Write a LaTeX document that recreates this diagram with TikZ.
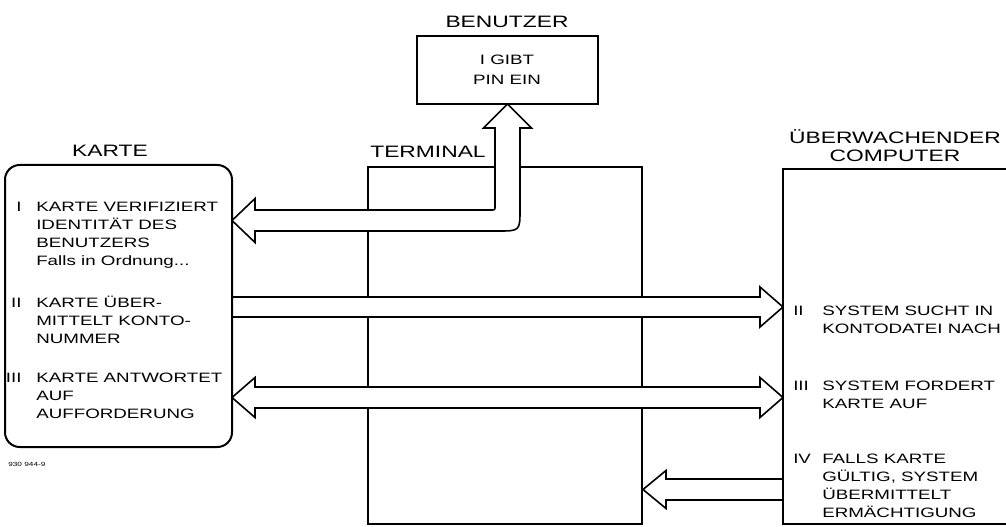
\documentclass[tikz,border=0pt]{standalone}
\usepackage{fontspec}
\setmainfont[FakeStretch=1.38]{Liberation Sans}
\usepackage{tikz}
\usetikzlibrary{calc,fit}

\begin{document}
\begin{tikzpicture}[x=0.75pt,y=-0.75pt,
  box/.style={draw,line width=1.5pt,inner sep=0pt},
  fat/.style={draw,fill=white,line width=1.2pt},
  head/.style={font=\fontsize{12.4}{13.5}\selectfont,inner sep=0pt,align=center},
  body/.style={font=\fontsize{10.2}{13.5}\selectfont,inner sep=0pt,align=left}]
  \useasboundingbox (0,0) rectangle (1006,527);
  \clip (0,0) rectangle (1006,527);

  % terminal sits under the arrows
  \node[box,fit={(368,167) (642,524)}] (terminal) {};
  \coordinate (kr) at (232,300);
  \coordinate (cl) at (783,300);
  \coordinate (pin) at (507.5,104);

  % I: user -> card (bent)
  \coordinate (a1) at (kr |- 0,220.5);
  \coordinate (ic) at ($(pin |- a1)+(-12.5,-10.5)$);
  \coordinate (oc) at ($(pin |- a1)+(12.5,10.5)$);
  \draw[fat] (a1) -- ($(a1)+(23,-22)$) -- ($(a1)+(23,-10.5)$)
    -- ($(ic)+(-4,0)$) .. controls (ic) .. ($(ic)+(0,-4)$)
    -- ($(pin)+(-12.5,24)$) -- ($(pin)+(-24,24)$) -- (pin)
    -- ($(pin)+(24,24)$) -- ($(pin)+(12.5,24)$)
    -- ($(oc)+(0,-22)$) .. controls (oc) .. ($(oc)+(-22,0)$)
    -- ($(a1)+(23,10.5)$) -- ($(a1)+(23,22)$) -- cycle;
  % II: card -> computer
  \coordinate (a2) at (kr |- 0,307);
  \coordinate (b2) at (cl |- a2);
  \draw[fat] ($(a2)+(0,-10)$) -- ($(b2)+(-23,-10)$) -- ($(b2)+(-23,-20)$) -- (b2)
    -- ($(b2)+(-23,20)$) -- ($(b2)+(-23,10)$) -- ($(a2)+(0,10)$) -- cycle;
  % III: card <-> computer
  \coordinate (a3) at (kr |- 0,397.5);
  \coordinate (b3) at (cl |- a3);
  \draw[fat] (a3) -- ($(a3)+(23,-20)$) -- ($(a3)+(23,-10.5)$) -- ($(b3)+(-23,-10.5)$)
    -- ($(b3)+(-23,-20)$) -- (b3) -- ($(b3)+(-23,20)$) -- ($(b3)+(-23,10.5)$)
    -- ($(a3)+(23,10.5)$) -- ($(a3)+(23,20)$) -- cycle;
  % IV: computer -> terminal
  \coordinate (a4) at (terminal.east |- 0,489.5);
  \coordinate (b4) at (cl |- a4);
  \draw[fat] (a4) -- ($(a4)+(23,-19)$) -- ($(a4)+(23,-10.5)$) -- ($(b4)+(0,-10.5)$)
    -- ($(b4)+(0,10.5)$) -- ($(a4)+(23,10.5)$) -- ($(a4)+(23,19)$) -- cycle;

  % boxes on top
  \node[box,rounded corners=11pt,fit={(5,165) (232,447)}] (karte) {};
  \node[box,fit={(417,36) (598,104)}] (benutzer) {};
  \node[box,fit={(783,169) (1030,524)}] (computer) {};

  % headings (base = last line)
  \node[head,anchor=base] (hkarte) at (110,157) {KARTE};
  \node[head,anchor=base] (hbenutzer) at (507,28) {BENUTZER};
  \node[head,anchor=base] (hterminal) at (428,158) {TERMINAL};
  \node[head,anchor=base] (hcomputer) at (895,162) {ÜBERWACHENDER\\COMPUTER};

  \node[body,font=\fontsize{10.2}{15}\selectfont,align=center,anchor=base] (tpin) at (507,85) {I GIBT\\PIN EIN};

  \node[body,anchor=base west] (k1) at (36,266)
    {\llap{I\hspace{11pt}}KARTE VERIFIZIERT\\IDENTITÄT DES\\BENUTZERS\\Falls in Ordnung...};
  \node[body,anchor=base west] (k2) at (36,343)
    {\llap{II\hspace{11pt}}KARTE ÜBER-\\MITTELT KONTO-\\NUMMER};
  \node[body,anchor=base west] (k3) at (36,418)
    {\llap{III\hspace{11pt}}KARTE ANTWORTET\\AUF\\AUFFORDERUNG};

  \node[body,anchor=base west] (c2) at (793,333)
    {\makebox[21.75pt][l]{II}SYSTEM SUCHT IN\\\hspace{21.75pt}KONTODATEI NACH};
  \node[body,anchor=base west] (c3) at (793,408)
    {\makebox[21.75pt][l]{III}SYSTEM FORDERT\\\hspace{21.75pt}KARTE AUF};
  \node[body,anchor=base west] (c4) at (793,517)
    {\makebox[21.75pt][l]{IV}FALLS KARTE\\\hspace{21.75pt}GÜLTIG, SYSTEM\\\hspace{21.75pt}ÜBERMITTELT\\\hspace{21.75pt}ERMÄCHTIGUNG};

  \node[font=\fontsize{4.5}{5}\selectfont,inner sep=0pt,anchor=base west] (code) at (8,466) {930 944-9};
\end{tikzpicture}
\end{document}
